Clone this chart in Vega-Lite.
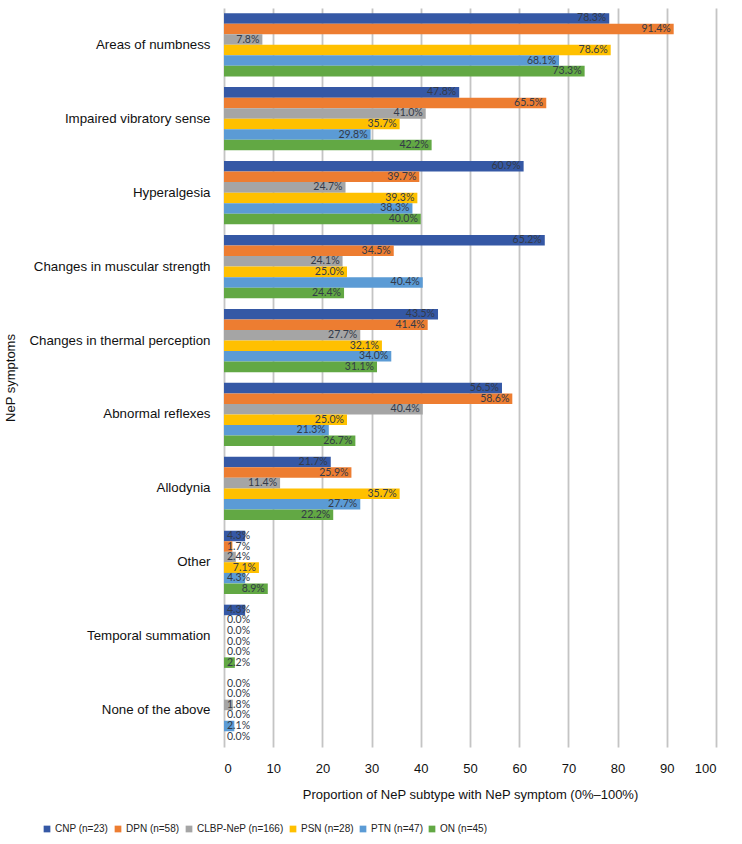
{
  "$schema": "https://vega.github.io/schema/vega-lite/v6.json",
  "width": 492,
  "height": 739,
  "autosize": "none",
  "padding": {"left": 224, "top": 8, "right": 26, "bottom": 97},
  "background": "white",
  "config": {
    "view": {"stroke": null},
    "font": "Liberation Sans"
  },
  "data": {
    "values": [
      {"symptom": "Areas of numbness", "subtype": "CNP (n=23)", "value": 78.3},
      {"symptom": "Areas of numbness", "subtype": "DPN (n=58)", "value": 91.4},
      {"symptom": "Areas of numbness", "subtype": "CLBP-NeP (n=166)", "value": 7.8},
      {"symptom": "Areas of numbness", "subtype": "PSN (n=28)", "value": 78.6},
      {"symptom": "Areas of numbness", "subtype": "PTN (n=47)", "value": 68.1},
      {"symptom": "Areas of numbness", "subtype": "ON (n=45)", "value": 73.3},
      {"symptom": "Impaired vibratory sense", "subtype": "CNP (n=23)", "value": 47.8},
      {"symptom": "Impaired vibratory sense", "subtype": "DPN (n=58)", "value": 65.5},
      {"symptom": "Impaired vibratory sense", "subtype": "CLBP-NeP (n=166)", "value": 41.0},
      {"symptom": "Impaired vibratory sense", "subtype": "PSN (n=28)", "value": 35.7},
      {"symptom": "Impaired vibratory sense", "subtype": "PTN (n=47)", "value": 29.8},
      {"symptom": "Impaired vibratory sense", "subtype": "ON (n=45)", "value": 42.2},
      {"symptom": "Hyperalgesia", "subtype": "CNP (n=23)", "value": 60.9},
      {"symptom": "Hyperalgesia", "subtype": "DPN (n=58)", "value": 39.7},
      {"symptom": "Hyperalgesia", "subtype": "CLBP-NeP (n=166)", "value": 24.7},
      {"symptom": "Hyperalgesia", "subtype": "PSN (n=28)", "value": 39.3},
      {"symptom": "Hyperalgesia", "subtype": "PTN (n=47)", "value": 38.3},
      {"symptom": "Hyperalgesia", "subtype": "ON (n=45)", "value": 40.0},
      {"symptom": "Changes in muscular strength", "subtype": "CNP (n=23)", "value": 65.2},
      {"symptom": "Changes in muscular strength", "subtype": "DPN (n=58)", "value": 34.5},
      {"symptom": "Changes in muscular strength", "subtype": "CLBP-NeP (n=166)", "value": 24.1},
      {"symptom": "Changes in muscular strength", "subtype": "PSN (n=28)", "value": 25.0},
      {"symptom": "Changes in muscular strength", "subtype": "PTN (n=47)", "value": 40.4},
      {"symptom": "Changes in muscular strength", "subtype": "ON (n=45)", "value": 24.4},
      {"symptom": "Changes in thermal perception", "subtype": "CNP (n=23)", "value": 43.5},
      {"symptom": "Changes in thermal perception", "subtype": "DPN (n=58)", "value": 41.4},
      {"symptom": "Changes in thermal perception", "subtype": "CLBP-NeP (n=166)", "value": 27.7},
      {"symptom": "Changes in thermal perception", "subtype": "PSN (n=28)", "value": 32.1},
      {"symptom": "Changes in thermal perception", "subtype": "PTN (n=47)", "value": 34.0},
      {"symptom": "Changes in thermal perception", "subtype": "ON (n=45)", "value": 31.1},
      {"symptom": "Abnormal reflexes", "subtype": "CNP (n=23)", "value": 56.5},
      {"symptom": "Abnormal reflexes", "subtype": "DPN (n=58)", "value": 58.6},
      {"symptom": "Abnormal reflexes", "subtype": "CLBP-NeP (n=166)", "value": 40.4},
      {"symptom": "Abnormal reflexes", "subtype": "PSN (n=28)", "value": 25.0},
      {"symptom": "Abnormal reflexes", "subtype": "PTN (n=47)", "value": 21.3},
      {"symptom": "Abnormal reflexes", "subtype": "ON (n=45)", "value": 26.7},
      {"symptom": "Allodynia", "subtype": "CNP (n=23)", "value": 21.7},
      {"symptom": "Allodynia", "subtype": "DPN (n=58)", "value": 25.9},
      {"symptom": "Allodynia", "subtype": "CLBP-NeP (n=166)", "value": 11.4},
      {"symptom": "Allodynia", "subtype": "PSN (n=28)", "value": 35.7},
      {"symptom": "Allodynia", "subtype": "PTN (n=47)", "value": 27.7},
      {"symptom": "Allodynia", "subtype": "ON (n=45)", "value": 22.2},
      {"symptom": "Other", "subtype": "CNP (n=23)", "value": 4.3},
      {"symptom": "Other", "subtype": "DPN (n=58)", "value": 1.7},
      {"symptom": "Other", "subtype": "CLBP-NeP (n=166)", "value": 2.4},
      {"symptom": "Other", "subtype": "PSN (n=28)", "value": 7.1},
      {"symptom": "Other", "subtype": "PTN (n=47)", "value": 4.3},
      {"symptom": "Other", "subtype": "ON (n=45)", "value": 8.9},
      {"symptom": "Temporal summation", "subtype": "CNP (n=23)", "value": 4.3},
      {"symptom": "Temporal summation", "subtype": "DPN (n=58)", "value": 0.0},
      {"symptom": "Temporal summation", "subtype": "CLBP-NeP (n=166)", "value": 0.0},
      {"symptom": "Temporal summation", "subtype": "PSN (n=28)", "value": 0.0},
      {"symptom": "Temporal summation", "subtype": "PTN (n=47)", "value": 0.0},
      {"symptom": "Temporal summation", "subtype": "ON (n=45)", "value": 2.2},
      {"symptom": "None of the above", "subtype": "CNP (n=23)", "value": 0.0},
      {"symptom": "None of the above", "subtype": "DPN (n=58)", "value": 0.0},
      {"symptom": "None of the above", "subtype": "CLBP-NeP (n=166)", "value": 1.8},
      {"symptom": "None of the above", "subtype": "PSN (n=28)", "value": 0.0},
      {"symptom": "None of the above", "subtype": "PTN (n=47)", "value": 2.1},
      {"symptom": "None of the above", "subtype": "ON (n=45)", "value": 0.0}
    ]
  },
  "encoding": {
    "y": {
      "field": "symptom",
      "type": "nominal",
      "sort": ["Areas of numbness", "Impaired vibratory sense", "Hyperalgesia", "Changes in muscular strength", "Changes in thermal perception", "Abnormal reflexes", "Allodynia", "Other", "Temporal summation", "None of the above"],
      "scale": {"paddingInner": 0.145, "paddingOuter": 0.07},
      "title": "NeP symptoms",
      "axis": {
        "domain": false,
        "ticks": false,
        "labelFont": "Liberation Sans",
        "labelFontSize": 13.3,
        "labelColor": "#111111",
        "labelPadding": 14,
        "labelLimit": 260,
        "titleFont": "Liberation Sans",
        "titleFontSize": 13,
        "titleFontWeight": "normal",
        "titleColor": "#111111",
        "titlePadding": 11
      }
    },
    "yOffset": {
      "field": "subtype",
      "type": "nominal",
      "sort": ["CNP (n=23)", "DPN (n=58)", "CLBP-NeP (n=166)", "PSN (n=28)", "PTN (n=47)", "ON (n=45)"],
      "scale": {"paddingInner": 0, "paddingOuter": 0}
    }
  },
  "layer": [
    {
      "mark": {"type": "bar"},
      "encoding": {
        "x": {
          "field": "value",
          "type": "quantitative",
          "scale": {"domain": [0, 100], "nice": false},
          "title": "Proportion of NeP subtype with NeP symptom (0%–100%)",
          "axis": {
            "values": [0, 10, 20, 30, 40, 50, 60, 70, 80, 90, 100],
            "domain": false,
            "ticks": false,
            "grid": true,
            "gridColor": "#c4c4c4",
            "gridWidth": 1.8,
            "labelFont": "Liberation Sans",
            "labelFontSize": 13,
            "labelColor": "#111111",
            "labelPadding": 15,
            "titleFont": "Liberation Sans",
            "titleFontSize": 13,
            "titleFontWeight": "normal",
            "titleColor": "#111111",
            "titlePadding": 13
          }
        },
        "color": {
          "field": "subtype",
          "type": "nominal",
          "sort": ["CNP (n=23)", "DPN (n=58)", "CLBP-NeP (n=166)", "PSN (n=28)", "PTN (n=47)", "ON (n=45)"],
          "scale": {
            "domain": ["CNP (n=23)", "DPN (n=58)", "CLBP-NeP (n=166)", "PSN (n=28)", "PTN (n=47)", "ON (n=45)"],
            "range": ["#3558a5", "#ed7d31", "#a5a5a5", "#ffc000", "#5b9bd5", "#62a844"]
          },
          "legend": {
            "title": null,
            "orient": "none",
            "direction": "horizontal",
            "columns": 6,
            "legendX": -182,
            "legendY": 816,
            "symbolType": "square",
            "symbolSize": 45,
            "symbolStrokeWidth": 0,
            "labelFont": "Liberation Sans",
            "labelFontSize": 10,
            "labelColor": "#222222",
            "labelOffset": 3,
            "columnPadding": 4
          }
        }
      }
    },
    {
      "transform": [
        {"filter": "datum.value >= 5"},
        {"calculate": "format(datum.value, '.1f') + '%'", "as": "label"}
      ],
      "mark": {"type": "text", "align": "right", "baseline": "middle", "dx": -3, "font": "Lato", "fontSize": 10.5, "color": "#333a48"},
      "encoding": {
        "x": {"field": "value", "type": "quantitative"},
        "text": {"field": "label", "type": "nominal"}
      }
    },
    {
      "transform": [
        {"filter": "datum.value < 5"},
        {"calculate": "format(datum.value, '.1f') + '%'", "as": "label"}
      ],
      "mark": {"type": "text", "align": "left", "baseline": "middle", "dx": 3, "font": "Lato", "fontSize": 10.5, "color": "#333a48"},
      "encoding": {
        "x": {"datum": 0, "type": "quantitative"},
        "text": {"field": "label", "type": "nominal"}
      }
    }
  ]
}
